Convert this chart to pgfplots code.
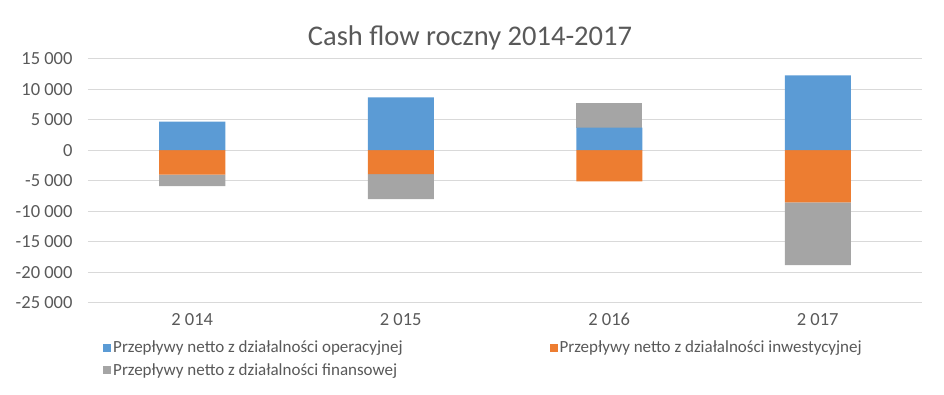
\documentclass[border=0pt]{standalone}
\usepackage{pgfplots}
\pgfplotsset{compat=1.18}
\usepackage{fontspec}
\setmainfont{Carlito}
\definecolor{cblue}{HTML}{5B9BD5}
\definecolor{corange}{HTML}{ED7D31}
\definecolor{cgray}{HTML}{A5A5A5}
\definecolor{ctext}{HTML}{595959}
\definecolor{cgrid}{HTML}{D9D9D9}
\begin{document}
\begin{tikzpicture}
\path[use as bounding box] (-88pt,-92.3pt) rectangle (856pt,302.7pt);
\begin{axis}[
  scale only axis,
  width=834pt, height=244pt,
  at={(0pt,0pt)}, anchor=south west,
  xmin=-0.5, xmax=3.5,
  ymin=-25000, ymax=15000,
  ybar stacked,
  bar width=66pt,
  scaled y ticks=false,
  xtick={0,1,2,3},
  xticklabels={2 014,2 015,2 016,2 017},
  ytick={-25000,-20000,-15000,-10000,-5000,0,5000,10000,15000},
  yticklabels={-25 000,-20 000,-15 000,-10 000,-5 000,0,5 000,10 000,15 000},
  major tick length=0pt,
  axis line style={draw=none},
  ymajorgrids,
  major grid style={cgrid, line width=1.1pt},
  tick label style={font=\fontsize{18.5}{22}\selectfont, text=ctext},
  yticklabel style={anchor=east, xshift=-12pt},
  xticklabel style={anchor=center, yshift=-17pt},
  legend columns=2,
  legend cell align=left,
  legend style={draw=none, at={(0.0144,-0.14)}, anchor=north west,
    font=\fontsize{17}{20}\selectfont, text=ctext,
    /tikz/every even column/.append style={column sep=145pt},
    row sep=5pt},
  legend image code/.code={\fill[#1] (0pt,-4pt) rectangle (8pt,4pt);},
]
\addplot[fill=cblue, draw=none] coordinates {(0,4700) (1,8640) (2,3700) (3,12250)};
\addlegendentry{Przepływy netto z działalności operacyjnej}
\addplot[fill=cgray, draw=none, forget plot] coordinates {(0,0) (1,0) (2,4100) (3,0)};
\addplot[fill=corange, draw=none] coordinates {(0,-4000) (1,-3930) (2,-5100) (3,-8550)};
\addlegendentry{Przepływy netto z działalności inwestycyjnej}
\addplot[fill=cgray, draw=none] coordinates {(0,-1900) (1,-4100) (2,0) (3,-10300)};
\addlegendentry{Przepływy netto z działalności finansowej}
\draw[cgrid, line width=1.1pt] (axis cs:-0.5,0) -- (axis cs:3.5,0);
\end{axis}
\node[text=ctext, font=\fontsize{28.5}{34}\selectfont] at (382pt,264.7pt) {Cash flow roczny 2014-2017};
\end{tikzpicture}
\end{document}
